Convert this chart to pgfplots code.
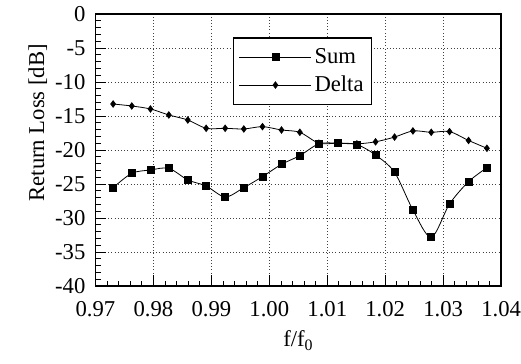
\documentclass[border=0pt]{standalone}
\usepackage{fontspec}
\setmainfont{Liberation Serif}
\usepackage{pgfplots}
\pgfplotsset{compat=1.18}
\begin{document}
\begin{tikzpicture}
\path[use as bounding box] (-71.6pt,-58.5pt) rectangle (319.2pt,214.5pt);
\begin{axis}[
  scale only axis, width=304.3pt, height=204pt,
  xmin=0.97, xmax=1.04, ymin=-40, ymax=0,
  xtick={0.97,0.98,0.99,1.00,1.01,1.02,1.03,1.04},
  xticklabels={0.97,0.98,0.99,1.00,1.01,1.02,1.03,1.04},
  ytick={0,-5,-10,-15,-20,-25,-30,-35,-40},
  yticklabels={0,-5,-10,-15,-20,-25,-30,-35,-40},
  minor x tick num=4, minor y tick num=4,
  tick align=inside, xtick pos=bottom, ytick pos=left,
  major tick length=8pt, minor tick length=4pt,
  tick style={black, line width=0.6pt},
  axis line style={line width=1.1pt},
  grid=major,
  major grid style={dotted, black!75, line width=0.5pt},
  ticklabel style={font=\fontsize{17}{20}\selectfont},
  xticklabel style={yshift=-8pt},
  yticklabel style={xshift=-4pt},
  xlabel={f/f\textsubscript{0}},
  ylabel={Return Loss [dB]},
  label style={font=\fontsize{17}{20}\selectfont},
  xlabel style={at={(axis description cs:0.5,-0.223)}, anchor=base},
  ylabel style={at={(axis description cs:-0.142,0.60)}, anchor=center},
  legend style={at={(axis description cs:0.339,0.915)}, anchor=north west,
    draw=black, line width=1.1pt, fill=white,
    font=\fontsize{17}{20}\selectfont, row sep=4pt,
    inner xsep=4pt, inner ysep=6pt},
  legend cell align=left,
  legend image code/.code={\draw[mark repeat=2,mark phase=2] plot coordinates {(0pt,0pt) (27pt,0pt) (54pt,0pt)};},
]
\addplot[black, line width=0.6pt, smooth, tension=0.5, mark=square*, mark size=2.6pt, mark options={solid}] coordinates {
(0.97305,-25.54) (0.97627,-23.43) (0.97949,-22.94) (0.98266,-22.70) (0.98594,-24.41)
(0.98910,-25.29) (0.99238,-26.91) (0.99560,-25.54) (0.99882,-23.92) (1.00210,-22.11)
(1.00527,-20.83) (1.00855,-19.10) (1.01183,-19.00) (1.01511,-19.20) (1.01833,-20.74)
(1.02161,-23.28) (1.02478,-28.82) (1.02794,-32.84) (1.03110,-27.94) (1.03438,-24.66)
(1.03755,-22.60)};
\addlegendentry{Sum}
\addplot[black, line width=0.6pt, smooth, tension=0.5, mark=diamond*, mark size=2.4pt, mark options={solid}] coordinates {
(0.97305,-13.24) (0.97627,-13.53) (0.97949,-13.97) (0.98266,-14.85) (0.98594,-15.59)
(0.98910,-16.81) (0.99238,-16.81) (0.99560,-16.91) (0.99882,-16.57) (1.00210,-17.06)
(1.00527,-17.40) (1.00855,-19.00) (1.01183,-19.00) (1.01511,-19.10) (1.01833,-18.80)
(1.02161,-18.10) (1.02478,-17.20) (1.02794,-17.40) (1.03110,-17.30) (1.03438,-18.60)
(1.03755,-19.75)};
\addlegendentry{Delta}
\end{axis}
\end{tikzpicture}
\end{document}
